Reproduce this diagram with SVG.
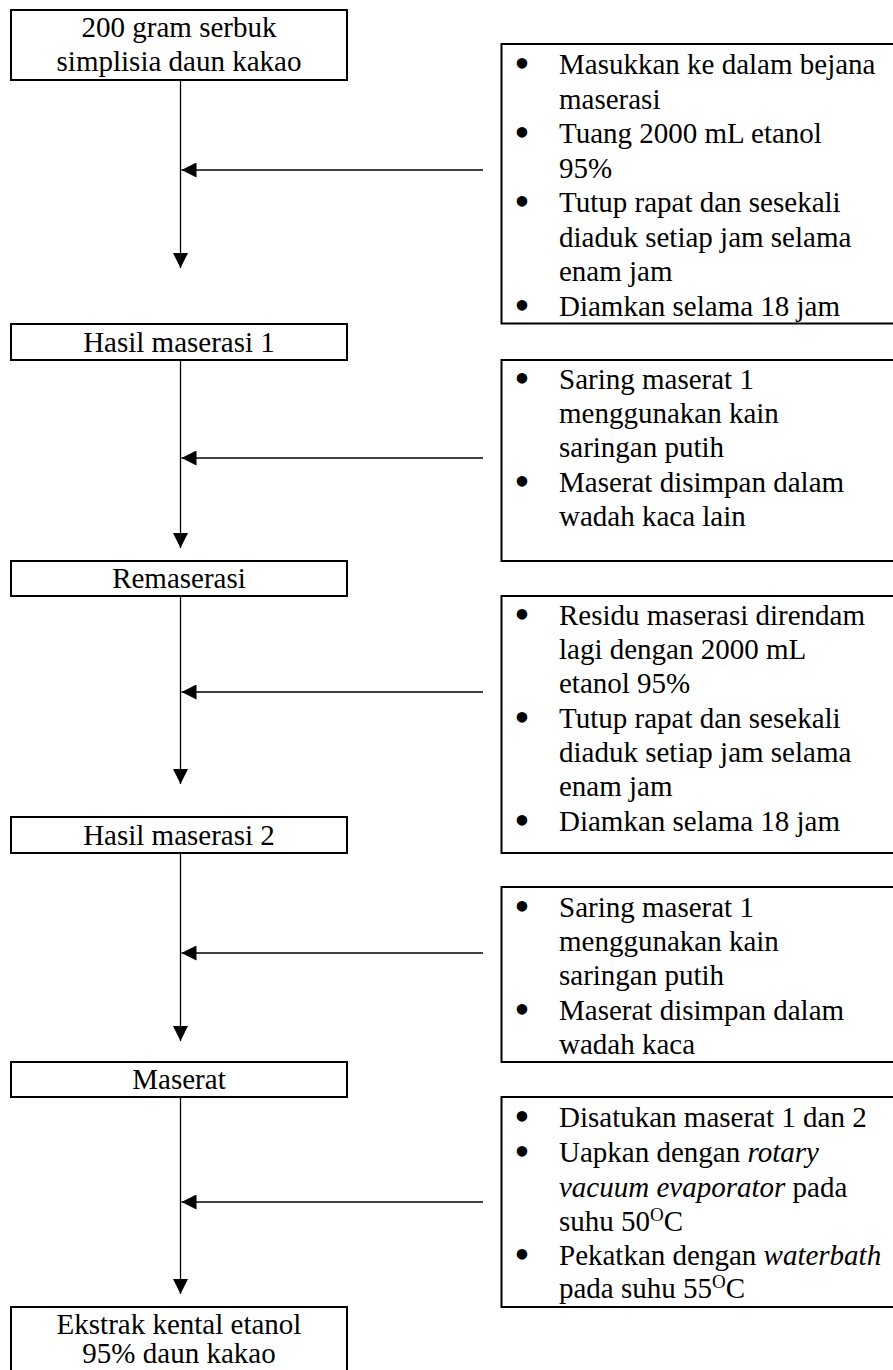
<svg xmlns="http://www.w3.org/2000/svg" width="893" height="1370" viewBox="0 0 893 1370">
<style>
  text { font-family: "Liberation Serif", "Times New Roman", serif; font-size: 29px; fill: #000; }
  .c { text-anchor: middle; }
  .b { text-anchor: middle; font-size: 44px; }
  .box { fill: #fff; stroke: #000; stroke-width: 2; }
  .ln { stroke: #000; stroke-width: 1.3; fill: none; }
  .it { font-style: italic; }
  .sup { font-size: 19px; }
</style>
<defs>
  <marker id="ah" markerWidth="16" markerHeight="15" refX="15" refY="7.5" orient="auto" markerUnits="userSpaceOnUse">
    <path d="M0,0 L15,7.5 L0,15 Z" fill="#000"/>
  </marker>
</defs>
<rect width="893" height="1370" fill="#fff"/>

<g id="connectors">
  <line class="ln" x1="180.5" y1="80" x2="180.5" y2="268" marker-end="url(#ah)"/>
  <line class="ln" x1="483" y1="170" x2="181.5" y2="170" marker-end="url(#ah)"/>
  <line class="ln" x1="180.5" y1="360" x2="180.5" y2="548" marker-end="url(#ah)"/>
  <line class="ln" x1="483" y1="458" x2="181.5" y2="458" marker-end="url(#ah)"/>
  <line class="ln" x1="180.5" y1="596" x2="180.5" y2="784" marker-end="url(#ah)"/>
  <line class="ln" x1="483" y1="692" x2="181.5" y2="692" marker-end="url(#ah)"/>
  <line class="ln" x1="180.5" y1="853" x2="180.5" y2="1041" marker-end="url(#ah)"/>
  <line class="ln" x1="483" y1="953" x2="181.5" y2="953" marker-end="url(#ah)"/>
  <line class="ln" x1="180.5" y1="1097" x2="180.5" y2="1294" marker-end="url(#ah)"/>
  <line class="ln" x1="483" y1="1202" x2="181.5" y2="1202" marker-end="url(#ah)"/>
</g>

<g id="n-start">
  <rect class="box" x="11" y="10" width="336" height="70"/>
  <text class="c" x="179" y="37">200 gram serbuk</text>
  <text class="c" x="179" y="71">simplisia daun kakao</text>
</g>

<g id="n-step1">
  <rect class="box" x="501.5" y="44" width="400" height="279.5"/>
  <text class="b" x="522" y="78">•</text><text x="559" y="74">Masukkan ke dalam bejana</text>
  <text x="559" y="108.5">maserasi</text>
  <text class="b" x="522" y="147">•</text><text x="559" y="143">Tuang 2000 mL etanol</text>
  <text x="559" y="177.5">95%</text>
  <text class="b" x="522" y="216">•</text><text x="559" y="212">Tutup rapat dan sesekali</text>
  <text x="559" y="246.5">diaduk setiap jam selama</text>
  <text x="559" y="281">enam jam</text>
  <text class="b" x="522" y="319.5">•</text><text x="559" y="315.5">Diamkan selama 18 jam</text>
</g>

<g id="n-hasil1">
  <rect class="box" x="11" y="324" width="336" height="36"/>
  <text class="c" x="179" y="351.5">Hasil maserasi 1</text>
</g>

<g id="n-step2">
  <rect class="box" x="501.5" y="360" width="400" height="201"/>
  <text class="b" x="522" y="393">•</text><text x="559" y="389">Saring maserat 1</text>
  <text x="559" y="423">menggunakan kain</text>
  <text x="559" y="457">saringan putih</text>
  <text class="b" x="522" y="495.5">•</text><text x="559" y="491.5">Maserat disimpan dalam</text>
  <text x="559" y="526">wadah kaca lain</text>
</g>

<g id="n-remaserasi">
  <rect class="box" x="11" y="561" width="336" height="35"/>
  <text class="c" x="179" y="588">Remaserasi</text>
</g>

<g id="n-step3">
  <rect class="box" x="501.5" y="596" width="400" height="257"/>
  <text class="b" x="522" y="629">•</text><text x="559" y="625">Residu maserasi direndam</text>
  <text x="559" y="659">lagi dengan 2000 mL</text>
  <text x="559" y="693">etanol 95%</text>
  <text class="b" x="522" y="732">•</text><text x="559" y="728">Tutup rapat dan sesekali</text>
  <text x="559" y="762">diaduk setiap jam selama</text>
  <text x="559" y="796">enam jam</text>
  <text class="b" x="522" y="835">•</text><text x="559" y="831">Diamkan selama 18 jam</text>
</g>

<g id="n-hasil2">
  <rect class="box" x="11" y="817" width="336" height="36"/>
  <text class="c" x="179" y="845">Hasil maserasi 2</text>
</g>

<g id="n-step4">
  <rect class="box" x="501.5" y="887" width="400" height="175"/>
  <text class="b" x="522" y="921">•</text><text x="559" y="917">Saring maserat 1</text>
  <text x="559" y="951">menggunakan kain</text>
  <text x="559" y="985">saringan putih</text>
  <text class="b" x="522" y="1024">•</text><text x="559" y="1020">Maserat disimpan dalam</text>
  <text x="559" y="1054">wadah kaca</text>
</g>

<g id="n-maserat">
  <rect class="box" x="11" y="1062" width="336" height="35"/>
  <text class="c" x="179" y="1089">Maserat</text>
</g>

<g id="n-step5">
  <rect class="box" x="501.5" y="1097" width="400" height="210"/>
  <text class="b" x="522" y="1131">•</text><text x="559" y="1127">Disatukan maserat 1 dan 2</text>
  <text class="b" x="522" y="1166">•</text><text x="559" y="1162">Uapkan dengan <tspan class="it">rotary</tspan></text>
  <text x="559" y="1196.5"><tspan class="it">vacuum evaporator</tspan> pada</text>
  <text x="559" y="1231">suhu 50<tspan class="sup" dy="-10">O</tspan><tspan dy="10">C</tspan></text>
  <text class="b" x="522" y="1269">•</text><text x="559" y="1265">Pekatkan dengan <tspan class="it">waterbath</tspan></text>
  <text x="559" y="1298">pada suhu 55<tspan class="sup" dy="-10">O</tspan><tspan dy="10">C</tspan></text>
</g>

<g id="n-end">
  <rect class="box" x="11" y="1307" width="336" height="80"/>
  <text class="c" x="179" y="1334">Ekstrak kental etanol</text>
  <text class="c" x="179" y="1363">95% daun kakao</text>
</g>
</svg>
